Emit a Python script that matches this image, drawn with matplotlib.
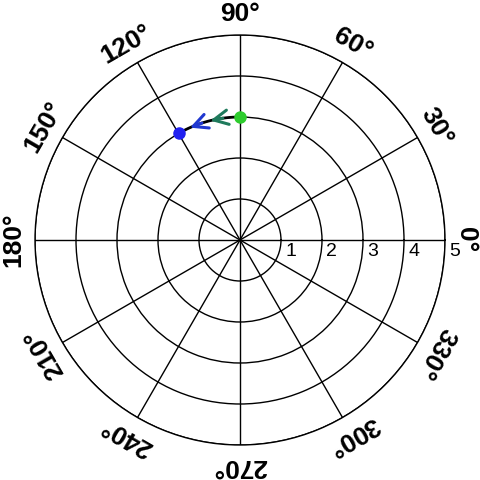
import numpy as np
import matplotlib.pyplot as plt

plt.rcParams['font.family'] = ['Liberation Sans', 'DejaVu Sans']

# data
r_ticks = [1, 2, 3, 4, 5]
theta_ticks = [0, 30, 60, 90, 120, 150, 180, 210, 240, 270, 300, 330]
path_r = 3
path_start = 90   # degrees
path_end = 120
arrow_tips = [104, 114]
arrow_colors = ['#1f7a5c', '#2038d0']

fig = plt.figure(figsize=(4.8, 4.8), dpi=100)
ax = fig.add_axes([35 / 480, 35 / 480, 410 / 480, 410 / 480], projection='polar')
ax.set_ylim(0, 5)
ax.set_yticks(r_ticks)
ax.set_yticklabels([])
ax.set_xticks(np.deg2rad(theta_ticks))
ax.set_xticklabels([])
ax.grid(True, color='black', linewidth=1, linestyle='-')
ax.spines['polar'].set_color('black')
ax.spines['polar'].set_linewidth(1)

# radial labels
for r in r_ticks:
    ax.annotate(str(r), xy=(0, r), xytext=(3, -2), textcoords='offset points',
                ha='left', va='top', fontsize=14, color='black')

# angle labels
for t in theta_ticks:
    ax.text(np.deg2rad(t), 5.52, f'{t}°', rotation=t - 90, rotation_mode='anchor',
            ha='center', va='center', fontsize=19, fontweight='bold', color='black')

# path along circle
th = np.deg2rad(np.linspace(path_start, path_end, 100))
ax.plot(th, np.full_like(th, path_r), color='black', linewidth=2, zorder=3)

for a, c in zip(arrow_tips, arrow_colors):
    ax.annotate('', xy=(np.deg2rad(a), path_r), xytext=(np.deg2rad(a - 6), path_r),
                arrowprops=dict(arrowstyle='->', color=c, lw=2.2, mutation_scale=26,
                                shrinkA=0, shrinkB=0),
                zorder=4)

ax.plot(np.deg2rad(path_start), path_r, 'o', color='#2ecc2e', markersize=8, zorder=5)
ax.plot(np.deg2rad(path_end), path_r, 'o', color='#2020f0', markersize=8, zorder=5)

fig.savefig('out.png', dpi=100)
